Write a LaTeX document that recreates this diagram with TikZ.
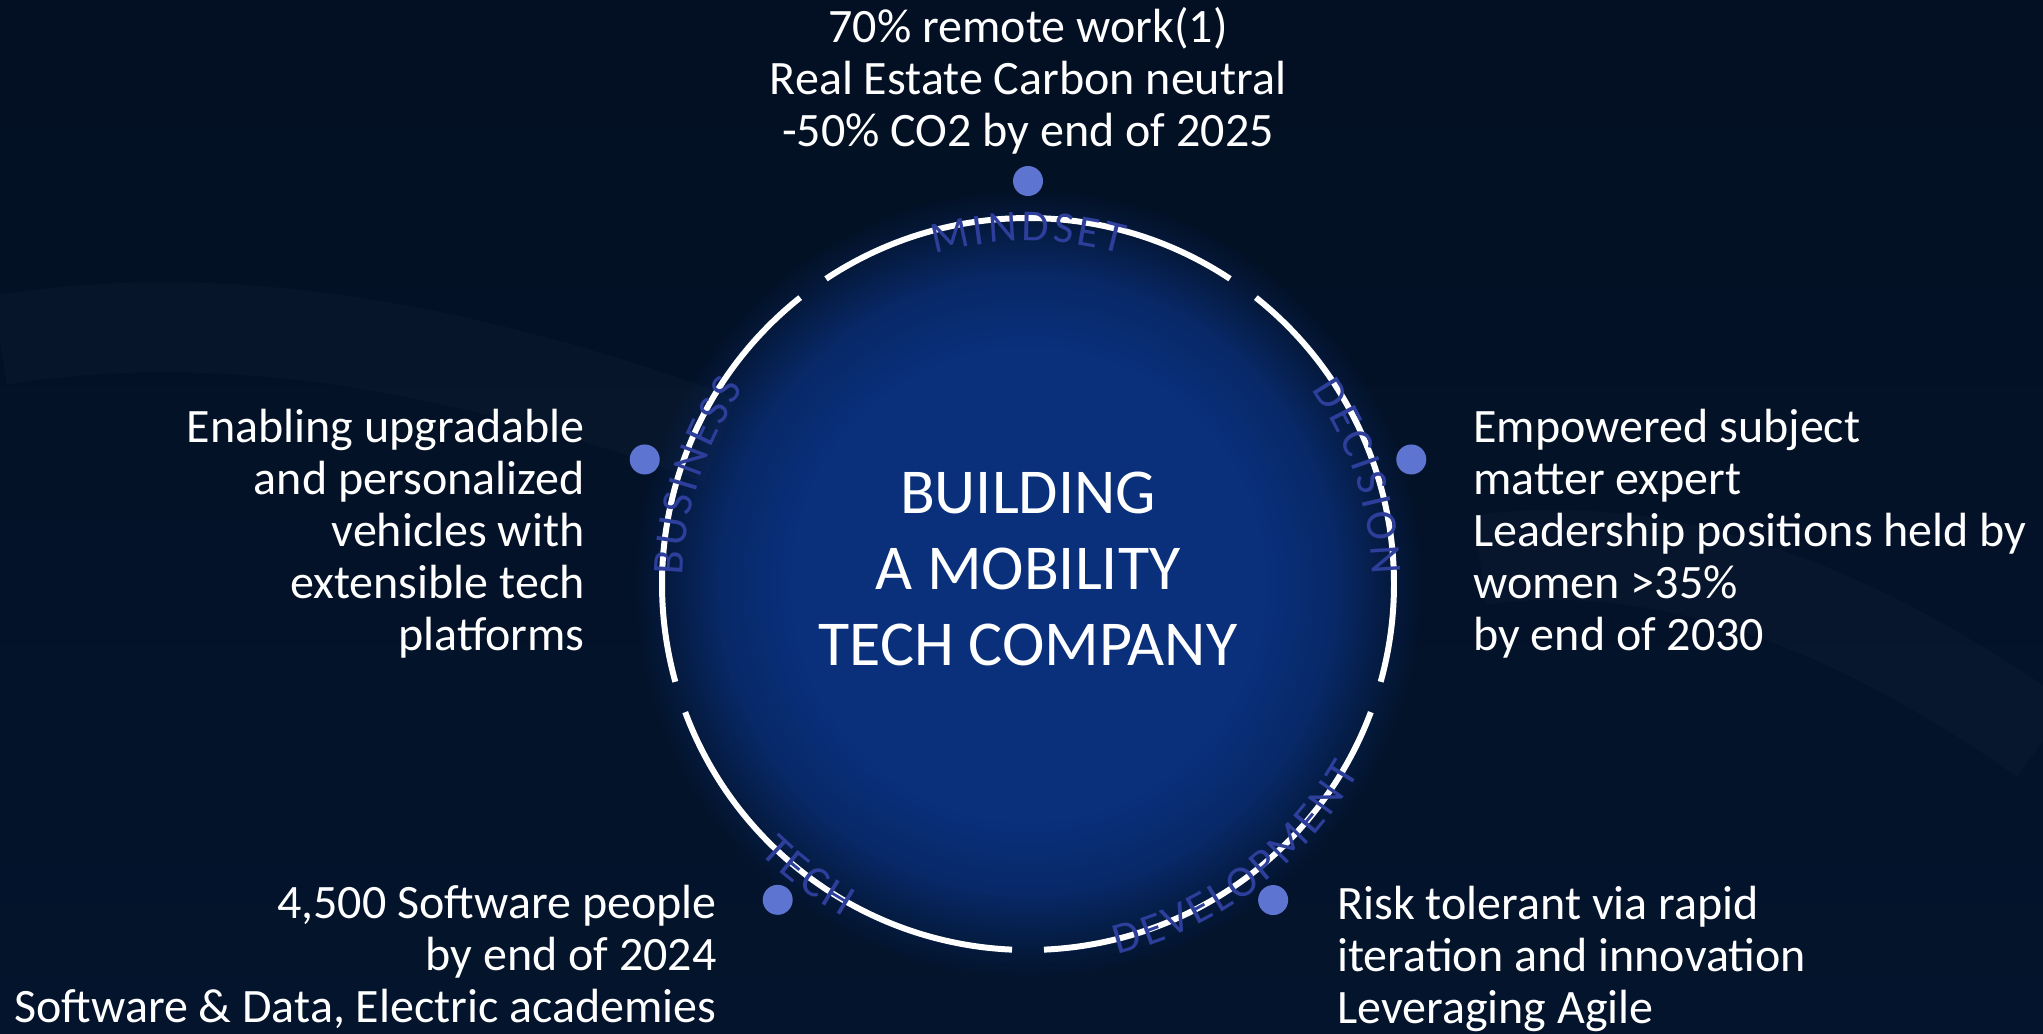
\documentclass[tikz,border=0pt]{standalone}
\usepackage{fontspec}
\setmainfont{Carlito}
\usetikzlibrary{positioning,calc,decorations.text,fadings}

\definecolor{bgtop}{RGB}{3,16,35}
\definecolor{bgmid}{RGB}{5,25,53}
\definecolor{bgbot}{RGB}{3,20,44}
\definecolor{glowblue}{RGB}{10,48,124}
\definecolor{dotblue}{RGB}{93,117,208}
\definecolor{lblblue}{RGB}{45,62,155}

\pgfdeclareradialshading{glowmask}{\pgfpointorigin}{color(0bp)=(white); color(15bp)=(white); color(19.5bp)=(white!75!black); color(23bp)=(white!25!black); color(25bp)=(black); color(50bp)=(black)}
\pgfdeclarefading{glowfade}{\pgfuseshading{glowmask}}

\newcommand\lk{\kern1pt}
\newcommand\lblfont{\fontsize{12.6}{15}\selectfont}

\tikzset{
  ring/.style={white, line width=1.7pt},
  dot/.style={circle, fill=dotblue, minimum size=3mm, inner sep=0pt},
  info/.style={text=white, inner sep=0pt, font=\fontsize{13.66}{14.8}\selectfont},
  title/.style={text=white, inner sep=0pt, align=center, font=\fontsize{18.2}{21.6}\selectfont},
  wave/.style={white, opacity=0.018, line width=9mm},
  arclabel/.style={decorate, decoration={text along path, text align=center,
    text={|\lblfont\color{lblblue}|#1}}}
}

\begin{document}
\begin{tikzpicture}
\useasboundingbox (0,0) rectangle (20.43,-10.33);
\shade[top color=bgtop, middle color=bgmid, bottom color=bgbot] (0,0) rectangle (20.43,-10.33);
\draw[wave] (0,-3.4) .. controls (2.5,-3.0) and (5,-3.6) .. (7.2,-4.4);
\draw[wave] (14.8,-5.6) .. controls (17,-5.3) and (19,-6.4) .. (20.43,-7.4);

\coordinate (hub) at (10.28,-5.84);
\fill[glowblue, path fading=glowfade] (hub) circle (3.95);

% ring segments
\foreach \a in {54,126,198,270,342}
  \draw[ring] ([shift={(\a+2.5:3.66)}]hub) arc[start angle=\a+2.5, end angle=\a+69.5, radius=3.66];

\path[arclabel={{M\lk}{I\lk}{N\lk}{D\lk}{S\lk}{E\lk}T}] ([shift={(115:3.43)}]hub) arc[start angle=115, end angle=65, radius=3.43];
\path[arclabel={{B\lk}{U\lk}{S\lk}{I\lk}{N\lk}{E\lk}{S\lk}S}] ([shift={(187:3.45)}]hub) arc[start angle=187, end angle=137, radius=3.45];
\path[arclabel={{D\lk}{E\lk}{C\lk}{I\lk}{S\lk}{I\lk}{O\lk}N}] ([shift={(43:3.44)}]hub) arc[start angle=43, end angle=-7, radius=3.44];
\path[arclabel={{T\lk}{E\lk}{C\lk}H}] ([shift={(213:3.80)}]hub) arc[start angle=213, end angle=253, radius=3.80];
\path[arclabel={{D\lk}{E\lk}{V\lk}{E\lk}{L\lk}{O\lk}{P\lk}{M\lk}{E\lk}{N\lk}T}] ([shift={(277:3.81)}]hub) arc[start angle=277, end angle=337, radius=3.81];

\node (mindset) [dot] at ($(hub)+(90:4.03)$) {};
\node (business) [dot] at ($(hub)+(162:4.03)$) {};
\node (decision) [dot] at ($(hub)+(18:4.03)$) {};
\node (tech) [dot] at ($(hub)+(231.6:4.03)$) {};
\node (development) [dot] at ($(hub)+(307.8:4.0)$) {};

\node (title) [title] at ($(hub)+(0,0.15)$) {BUILDING\\A MOBILITY\\TECH COMPANY};

\node (mindsettxt) [info, align=center, above=1.05mm of mindset] {70\% remote work(1)\\Real Estate Carbon neutral\\-50\% CO2 by end of 2025};
\node (businesstxt) [info, align=right, left=4.37mm of business, yshift=-7.4mm] {Enabling upgradable\\and personalized\\vehicles with~\\extensible tech\\platforms};
\node (decisiontxt) [info, align=left, right=4.57mm of decision, yshift=-7.4mm] {Empowered subject\\matter expert\\Leadership positions held by\\women >35\%\\by end of 2030};
\node (techtxt) [info, align=right, left=4.47mm of tech, yshift=-5.7mm] {4,500 Software people\\by end of 2024\\Software \& Data, Electric academies};
\node (developmenttxt) [info, align=left, right=4.78mm of development, yshift=-5.85mm] {Risk tolerant via rapid\\iteration and innovation\\Leveraging Agile};
\end{tikzpicture}
\end{document}
